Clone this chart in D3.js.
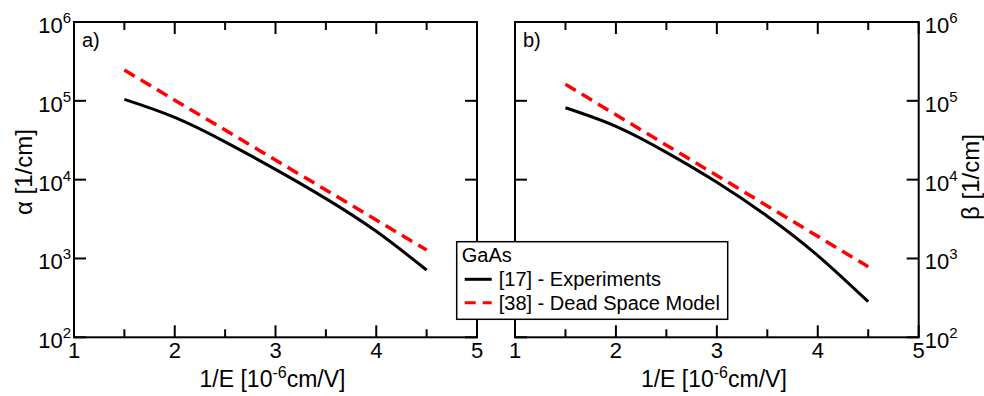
<!DOCTYPE html>
<html lang="en">
<head>
	<meta charset="UTF-8">
	<title>GaAs ionization coefficients</title>
	<script src="https://d3js.org/d3.v7.min.js"></script>
	<style>
		html, body { margin: 0; padding: 0; background: #fff; }
		svg { display: block; }
		text { font-family: 'Liberation Sans', Arial, sans-serif; fill: #000; }
		.frame { fill: none; stroke: #000; stroke-width: 2px; }
		.tick { stroke: #000; stroke-width: 2px; }
	</style>
</head>
<body>
	<div id="chart"></div>
<script>

// data
var invE = [1.5, 2, 2.5, 3, 3.5, 4, 4.5];                 // 1/E [1e-6 cm/V]
var alphaExp = [1.045e5, 6.17e4, 3.02e4, 1.35e4, 5.75e3, 2.21e3, 713];
var alphaDSM = [2.46e5, 1.02e5, 4.26e4, 1.77e4, 7.4e3, 3.08e3, 1.28e3];
var betaExp  = [8.17e4, 4.75e4, 2.22e4, 9.27e3, 3.44e3, 1.09e3, 283];
var betaDSM  = [1.62e5, 6.66e4, 2.74e4, 1.13e4, 4.64e3, 1.91e3, 785];

var xMajor = [1, 2, 3, 4, 5];
var xMinor = [1.5, 2.5, 3.5, 4.5];
var yMajor = [1e2, 1e3, 1e4, 1e5, 1e6];

var legendTitle = 'GaAs';
var seriesNames = ['[17] - Experiments', '[38] - Dead Space Model'];

var width = 984, height = 396;
var top_ = 22, bottom_ = 337.3;

var svg = d3.select('#chart').append('svg')
	.attr('width', width)
	.attr('height', height);

var y = d3.scaleLog().domain([1e2, 1e6]).range([bottom_, top_]);

var panels = [
	{ x0: 74, x1: 477, label: 'a)', exp: alphaExp, dsm: alphaDSM, side: 'left' },
	{ x0: 515, x1: 918.7, label: 'b)', exp: betaExp, dsm: betaDSM, side: 'right' }
];

panels.forEach(function(p) {
	var x = d3.scaleLinear().domain([1, 5]).range([p.x0, p.x1]);
	var g = svg.append('g');

	var line = d3.line()
		.x(function(d) { return x(d[0]); })
		.y(function(d) { return y(d[1]); })
		.curve(d3.curveNatural);

	g.append('path')
		.attr('d', line(d3.zip(invE, p.dsm)))
		.attr('fill', 'none')
		.attr('stroke', '#ff0000')
		.attr('stroke-width', 3.5)
		.attr('stroke-dasharray', '12,7');

	g.append('path')
		.attr('d', line(d3.zip(invE, p.exp)))
		.attr('fill', 'none')
		.attr('stroke', '#000')
		.attr('stroke-width', 3);

	// ticks on all four sides, pointing inward
	xMajor.concat(xMinor).forEach(function(v) {
		var len = xMajor.indexOf(v) >= 0 ? 12 : 8;
		g.append('line').attr('class', 'tick')
			.attr('x1', x(v)).attr('x2', x(v)).attr('y1', bottom_).attr('y2', bottom_ - len);
		g.append('line').attr('class', 'tick')
			.attr('x1', x(v)).attr('x2', x(v)).attr('y1', top_).attr('y2', top_ + len);
	});
	yMajor.forEach(function(v) {
		g.append('line').attr('class', 'tick')
			.attr('x1', p.x0).attr('x2', p.x0 + 12).attr('y1', y(v)).attr('y2', y(v));
		g.append('line').attr('class', 'tick')
			.attr('x1', p.x1).attr('x2', p.x1 - 12).attr('y1', y(v)).attr('y2', y(v));
	});

	g.append('rect').attr('class', 'frame')
		.attr('x', p.x0).attr('y', top_)
		.attr('width', p.x1 - p.x0).attr('height', bottom_ - top_);

	// x tick labels
	g.selectAll('.xlab').data(xMajor).enter().append('text')
		.attr('x', function(d) { return x(d); })
		.attr('y', bottom_ + 21)
		.attr('text-anchor', 'middle')
		.style('font-size', '22px')
		.text(function(d) { return d; });

	// y tick labels 10^n
	yMajor.forEach(function(v) {
		var t = g.append('text')
			.attr('x', p.side === 'left' ? p.x0 - 3 : p.x1 + 6)
			.attr('y', y(v) + 11)
			.attr('text-anchor', p.side === 'left' ? 'end' : 'start')
			.style('font-size', '22px');
		t.append('tspan').text('10');
		t.append('tspan').attr('dy', -10).style('font-size', '15px')
			.text(Math.round(Math.log10(v)));
	});

	g.append('text')
		.attr('x', p.x0 + 8).attr('y', top_ + 25)
		.style('font-size', '20px')
		.text(p.label);

	// x axis title
	var xt = g.append('text')
		.attr('x', (p.x0 + p.x1) / 2 - 3).attr('y', 387)
		.attr('text-anchor', 'middle')
		.style('font-size', '23px');
	xt.append('tspan').text('1/E [10');
	xt.append('tspan').attr('dy', -9).style('font-size', '16px').text('-6');
	xt.append('tspan').attr('dy', 9).text('cm/V]');
});

// y axis titles
svg.append('text')
	.attr('transform', 'translate(32,172) rotate(-90)')
	.attr('text-anchor', 'middle')
	.style('font-size', '24px')
	.text('\u03b1 [1/cm]');

svg.append('text')
	.attr('transform', 'translate(979,177) rotate(-90)')
	.attr('text-anchor', 'middle')
	.style('font-size', '24px')
	.text('\u03b2 [1/cm]');

// legend
var leg = svg.append('g').attr('transform', 'translate(456.7,241.7)');
leg.append('rect')
	.attr('width', 271).attr('height', 77.6)
	.attr('fill', '#fff').attr('stroke', '#000').attr('stroke-width', 1.5);
leg.append('text').attr('x', 5).attr('y', 20)
	.style('font-size', '20px').text(legendTitle);

var legStyles = [
	{ stroke: '#000', dash: null },
	{ stroke: '#ff0000', dash: '11,7' }
];
seriesNames.forEach(function(name, i) {
	var yy = 37.6 + i * 23.4;
	leg.append('line')
		.attr('x1', 8).attr('x2', 35).attr('y1', yy).attr('y2', yy)
		.attr('stroke', legStyles[i].stroke)
		.attr('stroke-width', 3)
		.attr('stroke-dasharray', legStyles[i].dash);
	leg.append('text').attr('x', 42).attr('y', yy + 7)
		.style('font-size', '20px').text(name);
});

</script>
</body>
</html>
